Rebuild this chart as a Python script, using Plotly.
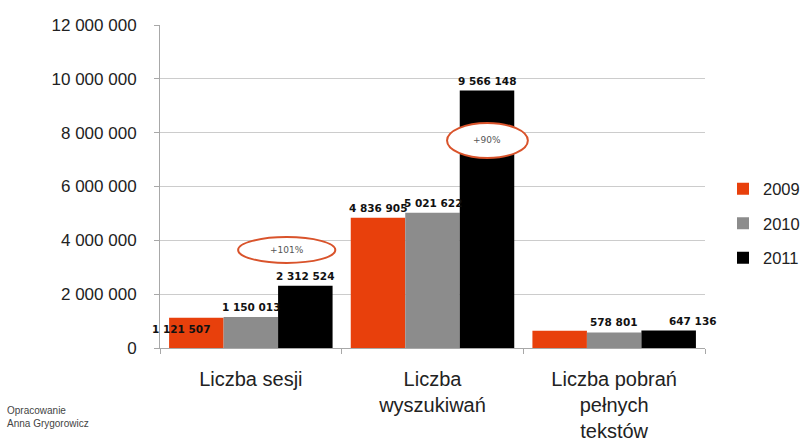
import plotly.graph_objects as go

categories = ["Liczba sesji", "Liczba<br>wyszukiwań", "Liczba pobrań<br>pełnych<br>tekstów"]
years = ["2009", "2010", "2011"]
values_2009 = [1121507, 4836905, 640000]
values_2010 = [1150013, 5021622, 578801]
values_2011 = [2312524, 9566148, 647136]
show_label_2009 = [True, True, False]
y_ticks = [0, 2000000, 4000000, 6000000, 8000000, 10000000, 12000000]

series = [values_2009, values_2010, values_2011]
colors = ["#e8400c", "#8c8c8c", "#000000"]

W, H = 802, 442
ML, MR, MT, MB = 160, 97, 25, 94
BARGAP = 0.1
plot_w = W - ML - MR
cat_px = plot_w / len(categories)
bar_w = cat_px * (1 - BARGAP) / len(series)

fig = go.Figure()
for name, vals, col in zip(years, series, colors):
    fig.add_trace(go.Bar(x=categories, y=vals, name=name, marker_color=col,
                         marker_line_width=0, legendgroup=name))

def fmt(v):
    return f"{v:,}".replace(",", " ")

label_font = dict(family="DejaVu Sans", size=10.5, color="#111111")
for si, vals in enumerate(series):
    for ci, v in enumerate(vals):
        if si == 0 and not show_label_2009[ci]:
            continue
        xs = (si - 1) * bar_w
        ys = 2
        yanchor = "bottom"
        xanchor = "center"
        if si == 0 and ci == 0:
            # label drawn inside the bar, left part
            xs = (si - 1) * bar_w - bar_w / 2 - 19
            xanchor = "left"
            yanchor = "top"
            ys = -3
        if si == 2 and ci == 2:
            xs += 24
        fig.add_annotation(x=categories[ci], y=v, text="<b>" + fmt(v) + "</b>",
                           showarrow=False, xshift=xs, yshift=ys,
                           xanchor=xanchor, yanchor=yanchor, font=label_font)

# growth ellipses
growth = [(0, values_2011[0] / values_2010[0] - 1, -0.07, 0.465, 3.16e6, 4.12e6),
          (1, values_2011[1] / values_2010[1] - 1, 1.08, 1.525, 7.06e6, 8.36e6)]
for ci, g, x0, x1, y0, y1 in growth:
    fig.add_shape(type="circle", xref="x", yref="y", x0=x0, x1=x1, y0=y0, y1=y1,
                  line=dict(color="#d9532b", width=2), fillcolor="white", layer="above")
    fig.add_annotation(x=(x0 + x1) / 2, y=(y0 + y1) / 2, text=f"+{round(g*100)}%",
                       showarrow=False, font=dict(family="DejaVu Sans", size=9, color="#555555"))

fig.add_annotation(xref="paper", yref="paper", x=(5 - ML) / plot_w, y=-0.215,
                   text="Opracowanie<br>Anna Grygorowicz", showarrow=False, align="left",
                   xanchor="left", yanchor="middle",
                   font=dict(family="Liberation Sans", size=10, color="#444444"))

fig.update_layout(
    width=W, height=H,
    margin=dict(l=ML, r=MR, t=MT, b=MB, autoexpand=False),
    barmode="group", bargap=BARGAP, bargroupgap=0,
    plot_bgcolor="white", paper_bgcolor="white",
    separators=", ",
    showlegend=True,
    legend=dict(x=(723 - ML) / plot_w, xanchor="left", y=0.385, yanchor="middle",
                font=dict(family="Liberation Sans", size=16.5, color="#222222"),
                tracegroupgap=10, bgcolor="rgba(0,0,0,0)"),
    xaxis=dict(range=[-0.5, len(categories) - 0.5], autorange=False,
               showline=True, linecolor="#a8a8a8", linewidth=1, ticks="outside",
               tickson="boundaries", ticklen=5, tickcolor="#a8a8a8", automargin=False,
               ticklabelstandoff=13,
               tickfont=dict(family="Liberation Sans", size=20, color="#222222"),
               showgrid=False),
    yaxis=dict(range=[0, 12000000], autorange=False, tickvals=y_ticks, tickformat=",d",
               automargin=False,
               showline=True, linecolor="#a8a8a8", linewidth=1, ticks="outside",
               ticklen=5, tickcolor="#a8a8a8", showgrid=True, gridcolor="#cccccc",
               gridwidth=1, zeroline=False, ticklabelstandoff=14,
               tickfont=dict(family="Liberation Sans", size=17, color="#222222")),
)

fig.write_html("out.html", config={"displayModeBar": False},
               post_script="document.body.style.margin='0px';")
